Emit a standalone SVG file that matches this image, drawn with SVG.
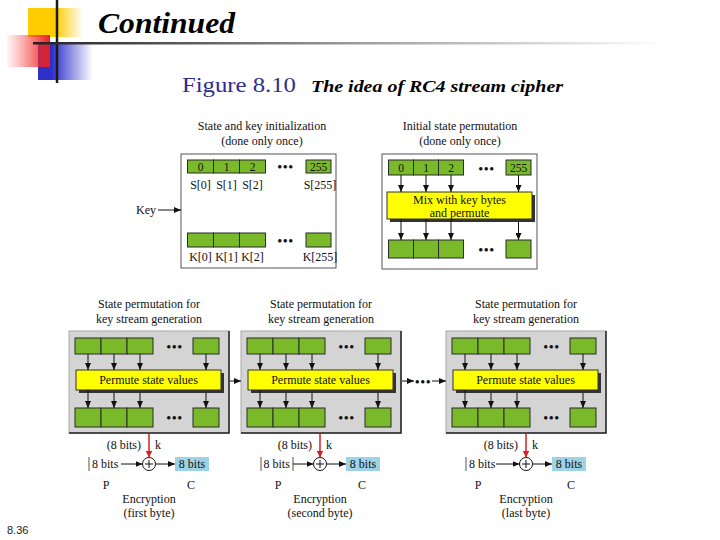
<svg xmlns="http://www.w3.org/2000/svg" width="720" height="540" viewBox="0 0 720 540">
<defs>
<linearGradient id="gYel" x1="0" y1="0" x2="1" y2="0"><stop offset="0" stop-color="#ffcc00"/><stop offset="0.5" stop-color="#ffcc00"/><stop offset="1" stop-color="#ffcc00" stop-opacity="0"/></linearGradient>
<linearGradient id="gRed" x1="0" y1="0" x2="1" y2="0"><stop offset="0" stop-color="#ff4444" stop-opacity="0.05"/><stop offset="1" stop-color="#e61e1e"/></linearGradient>
<linearGradient id="gBlue" x1="0" y1="0" x2="1" y2="0"><stop offset="0" stop-color="#2f2fcc"/><stop offset="0.25" stop-color="#2f2fcc"/><stop offset="1" stop-color="#2f2fcc" stop-opacity="0"/></linearGradient>
<linearGradient id="gLine" gradientUnits="userSpaceOnUse" x1="33" y1="0" x2="665" y2="0"><stop offset="0" stop-color="#222"/><stop offset="0.5" stop-color="#9a9a9a"/><stop offset="1" stop-color="#fff"/></linearGradient>
<marker id="ah" markerUnits="userSpaceOnUse" markerWidth="7" markerHeight="6" refX="7" refY="3" orient="auto"><path d="M0,0 L7,3 L0,6 z" fill="#111"/></marker>
<marker id="ahr" markerUnits="userSpaceOnUse" markerWidth="7" markerHeight="7" refX="7" refY="3.5" orient="auto"><path d="M0,0 L7,3.5 L0,7 z" fill="#d42020"/></marker>
<style>
.t{font-family:"Liberation Serif","Times New Roman",serif;font-size:12px;fill:#111}
.c{text-anchor:middle}
.n{font-family:"Liberation Serif","Times New Roman",serif;font-size:11.5px;fill:#111;text-anchor:middle}
.dots{font-family:"DejaVu Sans",sans-serif;font-size:4.5px;fill:#111;text-anchor:middle;letter-spacing:1.6px}
.cell{fill:#7aba2a;stroke:#2a2a2a;stroke-width:1}
.wbox{fill:#fff;stroke:#555;stroke-width:1}
.gbox{fill:#d4d4d4;stroke:#a8a8a8;stroke-width:1}
.edge{stroke:#222;stroke-width:1.5;fill:none}
.yel{fill:#ffff00;stroke:#333;stroke-width:1}
.shd{fill:#333}
.blue{fill:#9dd3e4}
.ar{stroke:#111;stroke-width:1;fill:none;marker-end:url(#ah)}
.red{stroke:#d42020;stroke-width:1.5;fill:none;marker-end:url(#ahr)}
.bar{stroke:#555;stroke-width:1}
</style>
</defs>
<rect width="720" height="540" fill="#fff"/>

<g id="header">
<rect x="28" y="8" width="55" height="29" fill="url(#gYel)"/>
<rect x="38" y="43" width="55" height="37" fill="url(#gBlue)"/>
<rect x="7" y="35" width="43" height="32" fill="url(#gRed)"/>
<line x1="57" y1="0" x2="57" y2="83" stroke="#1a1a1a" stroke-width="2.5"/>
<rect x="33" y="42" width="632" height="2.5" fill="url(#gLine)"/>
<text x="98" y="33" font-family="Liberation Serif,'Times New Roman',serif" font-size="29" font-weight="bold" font-style="italic" fill="#000" textLength="137" lengthAdjust="spacingAndGlyphs">Continued</text>
<text x="182" y="92" font-family="Liberation Serif,'Times New Roman',serif" font-size="22" fill="#2d2d8f" textLength="114" lengthAdjust="spacingAndGlyphs">Figure 8.10</text>
<text x="311" y="92" font-family="Liberation Serif,'Times New Roman',serif" font-size="17" font-weight="bold" font-style="italic" fill="#000" textLength="252" lengthAdjust="spacingAndGlyphs">The idea of RC4 stream cipher</text>
<text x="7" y="534" font-family="Liberation Sans,Arial,sans-serif" font-size="11" fill="#222">8.36</text>
</g>

<g id="init">
<text class="t c" x="262" y="130">State and key initialization</text>
<text class="t c" x="262" y="145">(done only once)</text>
<rect class="wbox" x="181" y="154" width="155" height="114"/>
<rect class="cell" x="187.5" y="160" width="26" height="13"/>
<rect class="cell" x="213.5" y="160" width="26" height="13"/>
<rect class="cell" x="239.5" y="160" width="26" height="13"/>
<rect class="cell" x="306" y="160" width="25" height="13"/>
<text class="n" x="200.5" y="171">0</text>
<text class="n" x="226.5" y="171">1</text>
<text class="n" x="252.5" y="171">2</text>
<text class="n" x="318.5" y="171">255</text>
<text class="dots" x="286" y="168">●●●</text>
<text class="t c" x="200.5" y="189">S[0]</text>
<text class="t c" x="226.5" y="189">S[1]</text>
<text class="t c" x="252.5" y="189">S[2]</text>
<text class="t c" x="320" y="189">S[255]</text>
<rect class="cell" x="187.5" y="233" width="26" height="14"/>
<rect class="cell" x="213.5" y="233" width="26" height="14"/>
<rect class="cell" x="239.5" y="233" width="26" height="14"/>
<rect class="cell" x="306" y="233" width="25" height="14"/>
<text class="dots" x="286" y="242">●●●</text>
<text class="t c" x="200.5" y="261">K[0]</text>
<text class="t c" x="226.5" y="261">K[1]</text>
<text class="t c" x="252.5" y="261">K[2]</text>
<text class="t c" x="320" y="261">K[255]</text>
</g>

<g id="key">
<text class="t" x="136" y="214">Key</text>
</g>

<g id="perm-init">
<text class="t c" x="460" y="130">Initial state permutation</text>
<text class="t c" x="460" y="145">(done only once)</text>
<rect class="wbox" x="382" y="154" width="155" height="115"/>
<rect class="cell" x="388.5" y="160" width="25" height="15"/>
<rect class="cell" x="413.5" y="160" width="25" height="15"/>
<rect class="cell" x="438.5" y="160" width="25" height="15"/>
<rect class="cell" x="506" y="160" width="25" height="15"/>
<text class="n" x="401" y="172">0</text>
<text class="n" x="426" y="172">1</text>
<text class="n" x="451" y="172">2</text>
<text class="n" x="518.5" y="172">255</text>
<text class="dots" x="487" y="170">●●●</text>
<rect class="shd" x="390" y="195" width="145" height="27"/>
<rect class="yel" x="387" y="192" width="145" height="27"/>
<text class="t c" x="459.5" y="204">Mix with key bytes</text>
<text class="t c" x="459.5" y="217">and permute</text>
<rect class="cell" x="388.5" y="240" width="25" height="18"/>
<rect class="cell" x="413.5" y="240" width="25" height="18"/>
<rect class="cell" x="438.5" y="240" width="25" height="18"/>
<rect class="cell" x="506" y="240" width="25" height="18"/>
<text class="dots" x="487" y="251">●●●</text>
</g>

<g id="ks1" transform="translate(69,0)">
<text class="t c" x="80" y="308">State permutation for</text>
<text class="t c" x="80" y="323">key stream generation</text>
<rect class="gbox" x="0" y="331" width="160" height="102"/>
<polyline class="edge" points="160,331 160,433 0,433"/>
<rect class="cell" x="6" y="338" width="26" height="16"/>
<rect class="cell" x="32" y="338" width="26" height="16"/>
<rect class="cell" x="58" y="338" width="26" height="16"/>
<rect class="cell" x="124" y="338" width="26" height="16"/>
<text class="dots" x="106" y="348">●●●</text>
<rect class="shd" x="10" y="373" width="145" height="20"/>
<rect class="yel" x="7" y="370" width="145" height="20"/>
<text class="t c" x="79.5" y="384">Permute state values</text>
<rect class="cell" x="6" y="408" width="26" height="19"/>
<rect class="cell" x="32" y="408" width="26" height="19"/>
<rect class="cell" x="58" y="408" width="26" height="19"/>
<rect class="cell" x="124" y="408" width="26" height="19"/>
<text class="dots" x="106" y="419">●●●</text>
</g>

<g id="ks2" transform="translate(241,0)">
<text class="t c" x="80" y="308">State permutation for</text>
<text class="t c" x="80" y="323">key stream generation</text>
<rect class="gbox" x="0" y="331" width="160" height="102"/>
<polyline class="edge" points="160,331 160,433 0,433"/>
<rect class="cell" x="6" y="338" width="26" height="16"/>
<rect class="cell" x="32" y="338" width="26" height="16"/>
<rect class="cell" x="58" y="338" width="26" height="16"/>
<rect class="cell" x="124" y="338" width="26" height="16"/>
<text class="dots" x="106" y="348">●●●</text>
<rect class="shd" x="10" y="373" width="145" height="20"/>
<rect class="yel" x="7" y="370" width="145" height="20"/>
<text class="t c" x="79.5" y="384">Permute state values</text>
<rect class="cell" x="6" y="408" width="26" height="19"/>
<rect class="cell" x="32" y="408" width="26" height="19"/>
<rect class="cell" x="58" y="408" width="26" height="19"/>
<rect class="cell" x="124" y="408" width="26" height="19"/>
<text class="dots" x="106" y="419">●●●</text>
</g>

<g id="ks3" transform="translate(446,0)">
<text class="t c" x="80" y="308">State permutation for</text>
<text class="t c" x="80" y="323">key stream generation</text>
<rect class="gbox" x="0" y="331" width="160" height="102"/>
<polyline class="edge" points="160,331 160,433 0,433"/>
<rect class="cell" x="6" y="338" width="26" height="16"/>
<rect class="cell" x="32" y="338" width="26" height="16"/>
<rect class="cell" x="58" y="338" width="26" height="16"/>
<rect class="cell" x="124" y="338" width="26" height="16"/>
<text class="dots" x="106" y="348">●●●</text>
<rect class="shd" x="10" y="373" width="145" height="20"/>
<rect class="yel" x="7" y="370" width="145" height="20"/>
<text class="t c" x="79.5" y="384">Permute state values</text>
<rect class="cell" x="6" y="408" width="26" height="19"/>
<rect class="cell" x="32" y="408" width="26" height="19"/>
<rect class="cell" x="58" y="408" width="26" height="19"/>
<rect class="cell" x="124" y="408" width="26" height="19"/>
<text class="dots" x="106" y="419">●●●</text>
</g>

<g id="between">
<text class="dots" x="423.5" y="383">●●●</text>
</g>

<g id="enc1">
<text class="t" x="141" y="449" text-anchor="end">(8 bits)</text>
<text class="t" x="155" y="449">k</text>
<line class="bar" x1="89" y1="457" x2="89" y2="471"/>
<text class="t" x="92" y="468">8 bits</text>
<circle cx="149" cy="464" r="6.5" fill="#fff" stroke="#111"/>
<path d="M145,464 H153 M149,460 V468" stroke="#111" stroke-width="1"/>
<rect class="blue" x="175" y="457" width="34" height="14"/>
<text class="t c" x="192" y="468">8 bits</text>
<text class="t c" x="106" y="489">P</text>
<text class="t c" x="191" y="489">C</text>
<text class="t c" x="149" y="503">Encryption</text>
<text class="t c" x="149" y="517">(first byte)</text>
</g>

<g id="enc2">
<text class="t" x="312" y="449" text-anchor="end">(8 bits)</text>
<text class="t" x="326" y="449">k</text>
<line class="bar" x1="261" y1="457" x2="261" y2="471"/>
<line class="bar" x1="293" y1="457" x2="293" y2="471"/>
<text class="t" x="263.5" y="468">8 bits</text>
<circle cx="320" cy="464" r="6.5" fill="#fff" stroke="#111"/>
<path d="M316,464 H324 M320,460 V468" stroke="#111" stroke-width="1"/>
<rect class="blue" x="346" y="457" width="34" height="14"/>
<text class="t c" x="363" y="468">8 bits</text>
<text class="t c" x="278" y="489">P</text>
<text class="t c" x="362" y="489">C</text>
<text class="t c" x="320" y="503">Encryption</text>
<text class="t c" x="320" y="517">(second byte)</text>
</g>

<g id="enc3">
<text class="t" x="518" y="449" text-anchor="end">(8 bits)</text>
<text class="t" x="532" y="449">k</text>
<line class="bar" x1="466" y1="457" x2="466" y2="471" stroke="#aaa"/>
<text class="t" x="469" y="468">8 bits</text>
<circle cx="526" cy="464" r="6.5" fill="#fff" stroke="#111"/>
<path d="M522,464 H530 M526,460 V468" stroke="#111" stroke-width="1"/>
<rect class="blue" x="552" y="457" width="34" height="14"/>
<text class="t c" x="569" y="468">8 bits</text>
<text class="t c" x="478" y="489">P</text>
<text class="t c" x="571" y="489">C</text>
<text class="t c" x="526" y="503">Encryption</text>
<text class="t c" x="526" y="517">(last byte)</text>
</g>

<g id="connectors">
<line class="ar" x1="158" y1="210" x2="181" y2="210"/>
<line class="ar" x1="401" y1="175" x2="401" y2="192"/>
<line class="ar" x1="426" y1="175" x2="426" y2="192"/>
<line class="ar" x1="451" y1="175" x2="451" y2="192"/>
<line class="ar" x1="518.5" y1="175" x2="518.5" y2="192"/>
<line class="ar" x1="401" y1="219" x2="401" y2="240"/>
<line class="ar" x1="426" y1="219" x2="426" y2="240"/>
<line class="ar" x1="451" y1="219" x2="451" y2="240"/>
<line class="ar" x1="518.5" y1="222" x2="518.5" y2="240"/>

<line class="ar" x1="88" y1="354" x2="88" y2="370"/>
<line class="ar" x1="114" y1="354" x2="114" y2="370"/>
<line class="ar" x1="140" y1="354" x2="140" y2="370"/>
<line class="ar" x1="206" y1="354" x2="206" y2="370"/>
<line class="ar" x1="88" y1="390" x2="88" y2="408"/>
<line class="ar" x1="114" y1="393" x2="114" y2="408"/>
<line class="ar" x1="140" y1="393" x2="140" y2="408"/>
<line class="ar" x1="206" y1="393" x2="206" y2="408"/>

<line class="ar" x1="260" y1="354" x2="260" y2="370"/>
<line class="ar" x1="286" y1="354" x2="286" y2="370"/>
<line class="ar" x1="312" y1="354" x2="312" y2="370"/>
<line class="ar" x1="378" y1="354" x2="378" y2="370"/>
<line class="ar" x1="260" y1="390" x2="260" y2="408"/>
<line class="ar" x1="286" y1="393" x2="286" y2="408"/>
<line class="ar" x1="312" y1="393" x2="312" y2="408"/>
<line class="ar" x1="378" y1="393" x2="378" y2="408"/>

<line class="ar" x1="465" y1="354" x2="465" y2="370"/>
<line class="ar" x1="491" y1="354" x2="491" y2="370"/>
<line class="ar" x1="517" y1="354" x2="517" y2="370"/>
<line class="ar" x1="583" y1="354" x2="583" y2="370"/>
<line class="ar" x1="465" y1="390" x2="465" y2="408"/>
<line class="ar" x1="491" y1="393" x2="491" y2="408"/>
<line class="ar" x1="517" y1="393" x2="517" y2="408"/>
<line class="ar" x1="583" y1="393" x2="583" y2="408"/>

<line class="ar" x1="230" y1="381" x2="241" y2="381"/>
<line class="ar" x1="402" y1="381" x2="414" y2="381"/>
<line class="ar" x1="432" y1="381" x2="446" y2="381"/>

<line class="red" x1="149" y1="434" x2="149" y2="457.5"/>
<line class="red" x1="320" y1="434" x2="320" y2="457.5"/>
<line class="red" x1="526" y1="434" x2="526" y2="457.5"/>

<line class="ar" x1="121" y1="464" x2="142.5" y2="464"/>
<line class="ar" x1="155.5" y1="464" x2="175" y2="464"/>
<line class="ar" x1="293" y1="464" x2="313.5" y2="464"/>
<line class="ar" x1="326.5" y1="464" x2="346" y2="464"/>
<line class="ar" x1="496" y1="464" x2="519.5" y2="464"/>
<line class="ar" x1="532.5" y1="464" x2="552" y2="464"/>
</g>
</svg>
